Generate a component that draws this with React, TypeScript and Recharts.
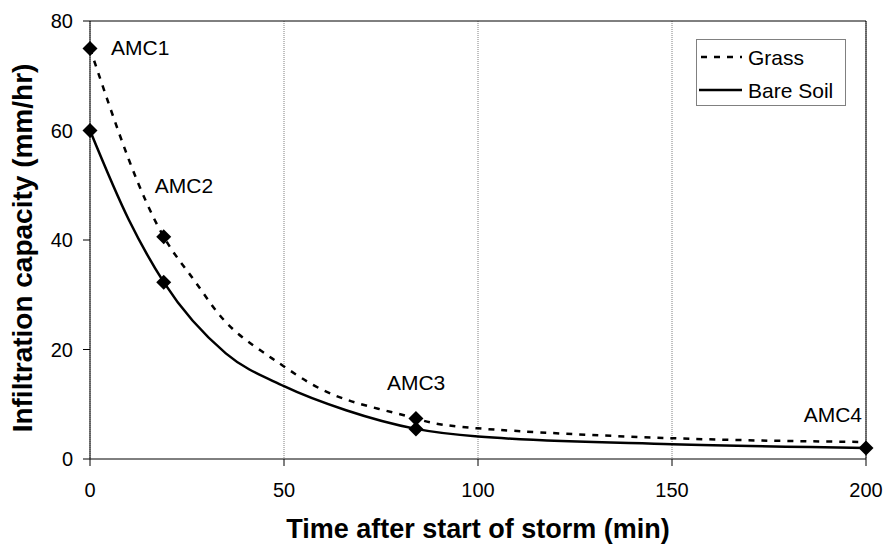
import React from 'react';
import { ComposedChart, Line, Scatter, XAxis, YAxis, CartesianGrid, ReferenceLine, Legend } from 'recharts';

// infiltration curves, time in minutes, rate in mm/hr
const grassTime = [0, 10, 19, 27, 35, 44, 50, 60, 72, 84, 100, 150, 200];
const grassRate = [75, 54.7, 40.6, 32.5, 25, 19.8, 16.9, 12.6, 9.6, 7.4, 5.6, 3.8, 3.1];

const bareTime = [0, 10, 19, 35, 50, 66, 84, 100, 150, 200];
const bareRate = [60, 43.7, 32.3, 19.3, 13.3, 8.9, 5.5, 4.1, 2.7, 2];

// antecedent moisture condition points
const amcTime = [0, 19, 84, 200];
const amcGrass = [75, 40.6, 7.4];
const amcBare = [60, 32.3, 5.5, 2];
const amcNames = ['AMC1', 'AMC2', 'AMC3', 'AMC4'];
const amcLabelRate = [75, 40.6, 7.4, 2];

const xTicks = [0, 50, 100, 150, 200];
const yTicks = [0, 20, 40, 60, 80];

const grassData = grassTime.map((t, i) => ({ t, v: grassRate[i] }));
const bareData = bareTime.map((t, i) => ({ t, v: bareRate[i] }));
const markerData = [
  ...amcGrass.map((v, i) => ({ t: amcTime[i], v })),
  ...amcBare.map((v, i) => ({ t: amcTime[i], v })),
];
const labelData = amcNames.map((label, i) => ({ t: amcTime[i], v: amcLabelRate[i], label }));

const FONT = 'Arial, "Liberation Sans", sans-serif';

// where each AMC label sits relative to its marker
const labelOffset: Record<string, { dx: number; dy: number; anchor: 'start' | 'end' }> = {
  AMC1: { dx: 21, dy: -1, anchor: 'start' },
  AMC2: { dx: -9, dy: -51, anchor: 'start' },
  AMC3: { dx: -29, dy: -36, anchor: 'start' },
  AMC4: { dx: -4, dy: -34, anchor: 'end' },
};

const Diamond = (props: any) => {
  const { cx, cy } = props;
  const r = 7.5;
  return <path d={`M${cx},${cy - r}L${cx + r},${cy}L${cx},${cy + r}L${cx - r},${cy}Z`} fill="#000" />;
};

const AmcLabel = (props: any) => {
  const { cx, cy, payload } = props;
  const o = labelOffset[payload.label];
  return (
    <text x={cx + o.dx} y={cy + o.dy} textAnchor={o.anchor} dominantBaseline="central"
      fontSize={21} fontFamily={FONT} fill="#000">
      {payload.label}
    </text>
  );
};

const LegendBox = () => (
  <svg width={150} height={67} style={{ display: 'block' }}>
    <rect x={0.5} y={0.5} width={149} height={66} fill="#fff" stroke="#808080" />
    <line x1={5} x2={46} y1={18} y2={18} stroke="#000" strokeWidth={2.5} strokeDasharray="6 7" />
    <text x={52} y={18} dominantBaseline="central" fontSize={21} fontFamily={FONT}>Grass</text>
    <line x1={3} x2={46} y1={51} y2={51} stroke="#000" strokeWidth={2.5} />
    <text x={52} y={51} dominantBaseline="central" fontSize={21} fontFamily={FONT}>Bare Soil</text>
  </svg>
);

export default function App() {
  const tickStyle = { fontSize: 20, fill: '#000', fontFamily: FONT };
  return (
    <div style={{ position: 'absolute', left: 0, top: 0, background: '#fff' }}>
      <ComposedChart width={884} height={545} margin={{ top: 21, right: 18, left: 0, bottom: 0 }}>
        <CartesianGrid horizontal={false} stroke="#808080" strokeDasharray="1 1" />
        <XAxis
          type="number"
          dataKey="t"
          domain={[0, 200]}
          ticks={xTicks}
          height={86}
          tick={tickStyle}
          tickSize={7}
          tickMargin={17}
          stroke="#000"
          label={({ viewBox }: any) => (
            <text x={viewBox.x + viewBox.width / 2} y={529} textAnchor="middle" dominantBaseline="central"
              fontSize={27} fontWeight="bold" fontFamily={FONT}>
              Time after start of storm (min)
            </text>
          )}
        />
        <YAxis
          type="number"
          domain={[0, 80]}
          ticks={yTicks}
          width={90}
          tick={tickStyle}
          tickSize={7}
          tickMargin={10}
          stroke="#000"
          label={() => (
            <text x={22} y={248} textAnchor="middle" dominantBaseline="central" transform="rotate(-90 22 248)"
              fontSize={28} fontWeight="bold" fontFamily={FONT}>
              Infiltration capacity (mm/hr)
            </text>
          )}
        />
        <ReferenceLine y={80} stroke="#000" />
        <ReferenceLine x={200} stroke="#000" />
        <Line data={grassData} dataKey="v" name="Grass" type="natural" stroke="#000" strokeWidth={2.5}
          strokeDasharray="6 7" dot={false} activeDot={false} isAnimationActive={false} />
        <Line data={bareData} dataKey="v" name="Bare Soil" type="monotone" stroke="#000" strokeWidth={2.5}
          dot={false} activeDot={false} isAnimationActive={false} />
        <Scatter data={markerData} dataKey="v" shape={<Diamond />} legendType="none" isAnimationActive={false} />
        <Scatter data={labelData} dataKey="v" shape={<AmcLabel />} legendType="none" isAnimationActive={false} />
        <Legend layout="horizontal" verticalAlign="middle" align="center" content={<LegendBox />}
          wrapperStyle={{ left: 696, top: 39, width: 150, height: 67 }} />
      </ComposedChart>
    </div>
  );
}
